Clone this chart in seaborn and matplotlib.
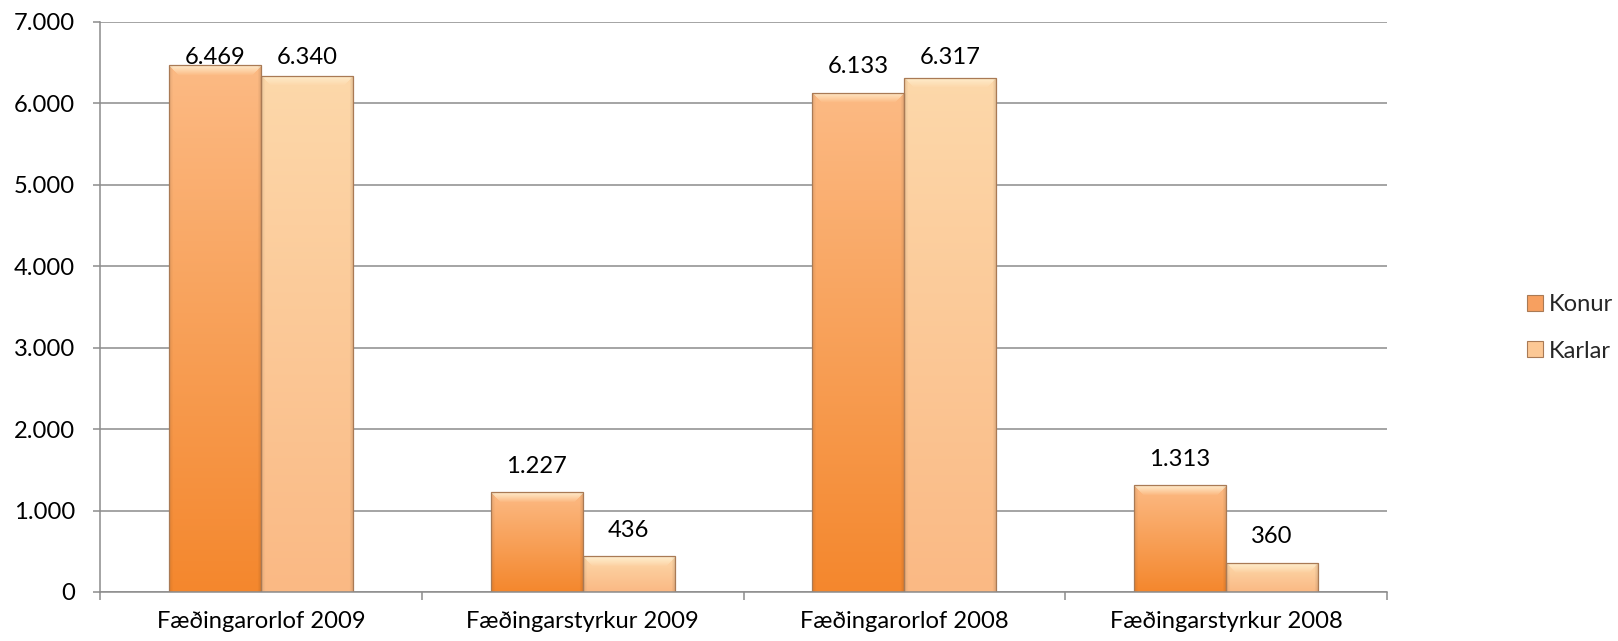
import numpy as np
import pandas as pd
import matplotlib
matplotlib.use("Agg")
import matplotlib.pyplot as plt
import matplotlib.ticker as mticker
from matplotlib.patches import Patch
import seaborn as sns

# gögn
flokkar = ["Fæðingarorlof 2009", "Fæðingarstyrkur 2009", "Fæðingarorlof 2008", "Fæðingarstyrkur 2008"]
konur = [6469, 1227, 6133, 1313]
karlar = [6340, 436, 6317, 360]
hopar = ["Konur", "Karlar"]

df = pd.DataFrame({
    "flokkur": flokkar * 2,
    "fjoldi": konur + karlar,
    "kyn": [hopar[0]] * len(flokkar) + [hopar[1]] * len(flokkar),
})

def isl(x, pos=None):
    return f"{int(round(x)):,}".replace(",", ".")

sns.set_style("white")
plt.rcParams["font.family"] = ["Lato", "DejaVu Sans"]

fig = plt.figure(figsize=(16.18, 6.41), dpi=100)
ax = fig.add_axes([100 / 1618, 1 - 592 / 641, 1287 / 1618, 570 / 641])

# leturstærð sem gefur ~209 px breiðan flokkatexta
r = fig.canvas.get_renderer()
t = fig.text(0, 0, flokkar[0], fontsize=17)
bb = t.get_window_extent(renderer=r)
t.remove()
fs = 17 * 209 / bb.width

litir = {"Konur": "#F7A060", "Karlar": "#FCC895"}
sns.barplot(data=df, x="flokkur", y="fjoldi", hue="kyn", order=flokkar, hue_order=hopar,
            palette=litir, width=0.572, gap=0, ax=ax, legend=False,
            edgecolor="#A97A55", linewidth=0.9)

ax.set_ylim(0, 7000)
ax.set_xlim(-0.5, len(flokkar) - 0.5)
ax.yaxis.set_major_locator(mticker.MultipleLocator(1000))
ax.yaxis.set_major_formatter(mticker.FuncFormatter(isl))
ax.set_xlabel("")
ax.set_ylabel("")
ax.grid(axis="y", color="#8C8C8C", linewidth=1.1)
ax.set_axisbelow(True)
for s in ["top", "right"]:
    ax.spines[s].set_visible(False)
for s in ["left", "bottom"]:
    ax.spines[s].set_color("#8C8C8C")
    ax.spines[s].set_linewidth(1.1)

ax.tick_params(axis="y", which="major", direction="out", length=5, width=1.1, color="#8C8C8C",
               pad=13, labelsize=fs, labelcolor="black", left=True)
ax.xaxis.set_minor_locator(mticker.FixedLocator(np.arange(-0.5, len(flokkar), 1.0)))
ax.tick_params(axis="x", which="minor", direction="out", length=6, width=1.1, color="#8C8C8C", bottom=True)
ax.tick_params(axis="x", which="major", length=0, pad=14, labelsize=fs, labelcolor="black")

# litastig á súlurnar
fig.canvas.draw()
stig = {
    "Konur": (np.array([244, 135, 45]), np.array([252, 186, 132])),
    "Karlar": (np.array([250, 185, 132]), np.array([253, 216, 170])),
}
patches = ax.patches
for i, p in enumerate(patches):
    kyn = hopar[i // len(flokkar)]
    x0, y0 = p.get_x(), p.get_y()
    w, h = p.get_width(), p.get_height()
    (px0, py0) = ax.transData.transform((x0, y0))
    (px1, py1) = ax.transData.transform((x0 + w, y0 + h))
    wp, hp = max(int(round(px1 - px0)), 2), max(int(round(py1 - py0)), 2)
    nedst, efst = stig[kyn]
    tt = np.linspace(0, 1, hp)[::-1][:, None]
    img = (nedst * (1 - tt) + efst * tt)[:, None, :].repeat(wp, axis=1) / 255.0
    # efri skábrún
    bev = 10
    ljos = np.array([255, 240, 210]) / 255.0
    for rr in range(min(bev, hp)):
        a = 0.9 * (1 - rr / bev)
        img[rr, rr:wp - rr] = img[rr, rr:wp - rr] * (1 - a) + ljos * a
    # hliðar dekkri
    for c in range(4):
        img[:, c] *= 0.92 + 0.02 * c
        img[:, wp - 1 - c] *= 0.88 + 0.03 * c
    img = np.clip(img, 0, 1)
    im = ax.imshow(img, extent=(x0, x0 + w, y0, y0 + h), aspect="auto", zorder=p.get_zorder() - 0.1,
                   interpolation="bilinear")
    im.set_clip_path(p)
    p.set_facecolor("none")

ax.set_xlim(-0.5, len(flokkar) - 0.5)
ax.set_ylim(0, 7000)

# gildismerki
for i, p in enumerate(patches):
    v = p.get_height()
    y = min(v + 320, 6560)
    ax.text(p.get_x() + p.get_width() / 2, y, isl(v), ha="center", va="center", fontsize=fs, color="black")

handles = [Patch(facecolor=litir[k], edgecolor="#A97A55", linewidth=0.8, label=k) for k in hopar]
fs_px = fs * 100 / 72
fig.legend(handles=handles, loc="center left", bbox_to_anchor=(1527 / 1618, 1 - 328 / 641),
           frameon=False, fontsize=fs, handlelength=16 / fs_px, handleheight=16 / fs_px,
           handletextpad=6 / fs_px, labelspacing=(49 - fs_px) / fs_px, borderaxespad=0, borderpad=0)

fig.savefig("out.png", dpi=100)
